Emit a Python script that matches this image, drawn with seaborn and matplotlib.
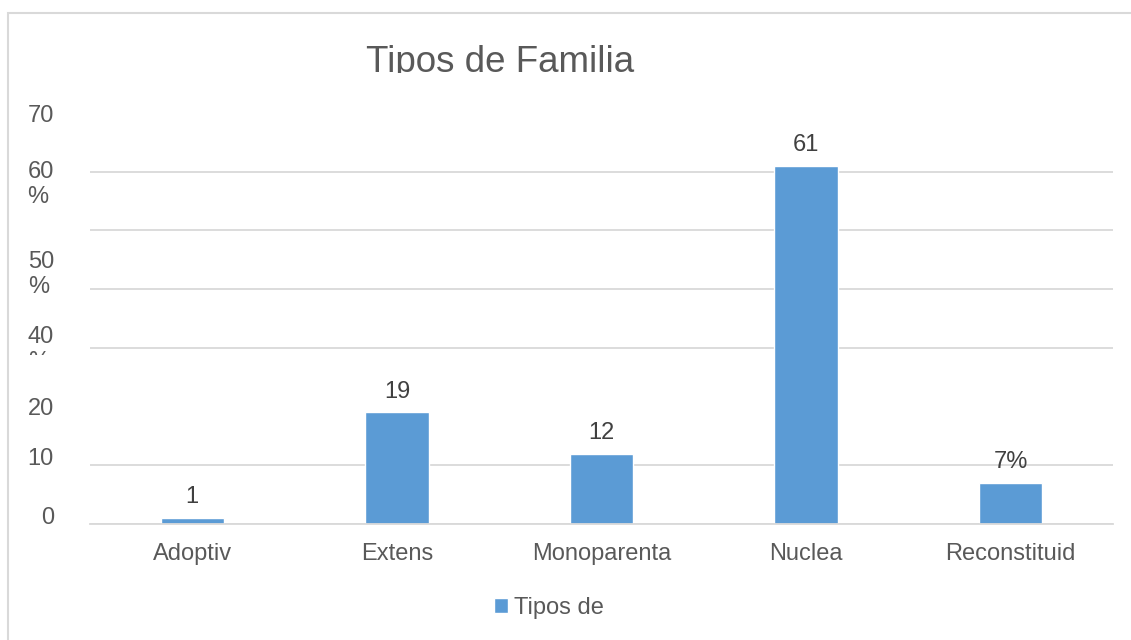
import matplotlib
matplotlib.use('Agg')
import matplotlib.pyplot as plt
import seaborn as sns
from matplotlib.patches import Rectangle
from matplotlib.transforms import Bbox

# data
categories = ['Adoptiv', 'Extens', 'Monoparenta', 'Nuclea', 'Reconstituid']
values = [1, 19, 12, 61, 7]
bar_labels = ['1', '19', '12', '61', '7%']
series_name = 'Tipos de'
title = 'Tipos de Familia'
# odd y tick labels as they appear in the source chart
ytick_pos = [1.4, 11.5, 20, 33.7, 46.5, 61.8, 70]
ytick_text = ['0', '10', '20', '40\n%', '50\n%', '60\n%', '70']

W, H = 1131, 640
bar_color = '#5B9BD5'
grid_color = '#D9D9D9'
text_color = '#595959'
fs = 17

sns.set_style('white')
plt.rcParams['font.family'] = ['Liberation Sans', 'DejaVu Sans']

fig = plt.figure(figsize=(W / 100, H / 100), dpi=100)
ax = fig.add_axes([90 / W, (H - 524) / H, (1113 - 90) / W, (524 - 113) / H])

sns.barplot(x=categories, y=values, color=bar_color, width=0.31,
            saturation=1, ax=ax, label=series_name)

# gridlines on minor ticks, labels on major ticks
ax.set_yticks(range(0, 71, 10), minor=True)
ax.yaxis.grid(True, which='minor', color=grid_color, linewidth=1.3)
ax.set_axisbelow(True)
ax.set_yticks(ytick_pos)
ax.set_yticklabels(ytick_text)
ax.set_xlim(-0.5, 4.5)
ax.set_ylim(0, 70)
ax.tick_params(axis='y', which='both', length=0, pad=26, labelsize=fs,
               labelcolor=text_color)
for lab in ax.get_yticklabels():
    lab.set_multialignment('left')
    lab.set_linespacing(1.15)
    if '%' in lab.get_text():
        lab.set_verticalalignment('top')
    else:
        lab.set_verticalalignment('center_baseline')
    if lab.get_text().startswith('40'):
        lab.set_clip_box(Bbox.from_extents(0, H - 355, W, H))
        lab.set_clip_on(True)

ax.tick_params(axis='x', length=0, pad=14, labelsize=fs, labelcolor=text_color)
ax.set_xlabel('')
ax.set_ylabel('')
for s in ['top', 'right', 'left']:
    ax.spines[s].set_visible(False)
ax.spines['bottom'].set_color(grid_color)
ax.spines['bottom'].set_linewidth(1.3)

ax.bar_label(ax.containers[0], labels=bar_labels, padding=7, fontsize=fs,
             color='#404040')

# title, clipped at the bottom like in the source
t = fig.text(500 / W, 1 - 72 / H, title, ha='center', va='baseline',
             fontsize=26.5, color=text_color)
t.set_clip_box(Bbox.from_extents(0, H - 73, W, H))
t.set_clip_on(True)

# legend
if ax.get_legend():
    ax.get_legend().remove()
fig.legend(*ax.get_legend_handles_labels(), loc='center',
           bbox_to_anchor=(549 / W, 1 - 608 / H),
           frameon=False, fontsize=fs, labelcolor=text_color,
           handlelength=0.6, handleheight=0.6, handletextpad=0.25)

# outer chart border
fig.patches.append(Rectangle((8 / W, -0.1), 1.2, 1 - 13 / H + 0.1,
                             transform=fig.transFigure, fill=False,
                             edgecolor=grid_color, linewidth=1.5))

fig.savefig('out.png', dpi=100)
